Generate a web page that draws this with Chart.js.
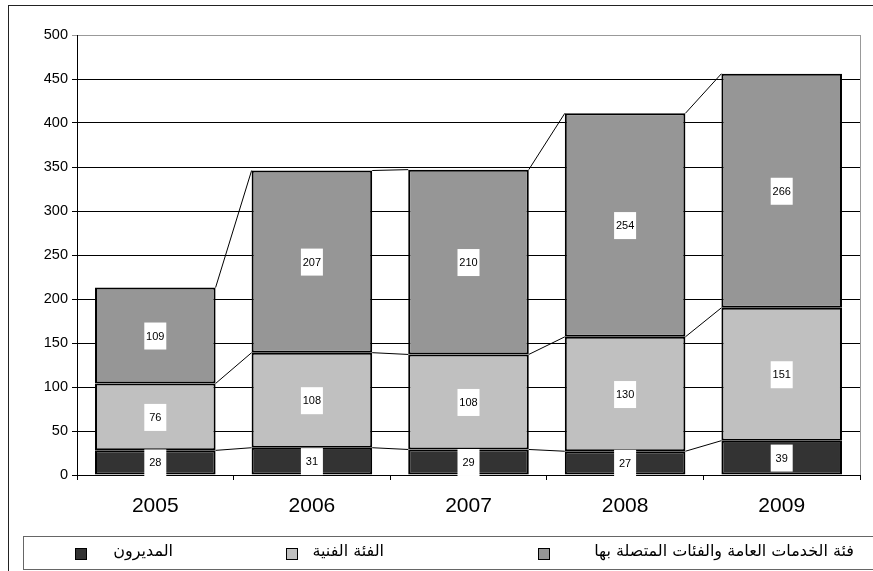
<!DOCTYPE html>
<html>
<head>
<meta charset="utf-8">
<script src="https://cdn.jsdelivr.net/npm/chart.js@4"></script>
<style>
  body { margin: 0; background: #fff; }
  #wrap { position: relative; width: 873px; height: 571px; overflow: hidden; }
  #frame { position: absolute; left: 8px; top: 5px; width: 870px; height: 580px; border-top: 1px solid #222; border-left: 1px solid #222; }
  #legend { position: absolute; left: 23px; top: 536px; width: 860px; height: 32px; border: 1px solid #666; }
  .item { position: absolute; top: 4px; font-family: "DejaVu Sans", sans-serif; font-size: 16px; direction: rtl; white-space: nowrap; }
  .sw { position: absolute; top: 11px; width: 10px; height: 10px; border: 1px solid #000; }
</style>
</head>
<body>
<div id="wrap">
  <canvas id="c" width="873" height="571" style="position:absolute;left:0;top:0"></canvas>
  <div id="frame"></div>
  <div id="legend"></div>
</div>
<script>
const anios = ['2005', '2006', '2007', '2008', '2009'];
const nombres = ['المديرون', 'الفئة الفنية', 'فئة الخدمات العامة والفئات المتصلة بها'];
const directores = [28, 31, 29, 27, 39];
const tecnica = [76, 108, 108, 130, 151];
const servicios = [109, 207, 210, 254, 266];
const colores = ['#333333', '#c0c0c0', '#969696'];
const ticksY = [0, 50, 100, 150, 200, 250, 300, 350, 400, 450, 500];

// lineas de serie entre barras + etiquetas con fondo blanco
const extras = {
  id: 'extras',
  afterDatasetsDraw(chart) {
    const ctx = chart.ctx;
    const area = chart.chartArea;
    ctx.save();
    ctx.strokeStyle = '#999';
    ctx.lineWidth = 1;
    ctx.beginPath();
    ctx.moveTo(area.right + 0.5, area.top);
    ctx.lineTo(area.right + 0.5, area.bottom);
    ctx.stroke();
    ctx.strokeStyle = '#000';
    chart.data.datasets.forEach((ds, i) => {
      const bars = chart.getDatasetMeta(i).data;
      for (let j = 0; j < bars.length - 1; j++) {
        const a = bars[j], b = bars[j + 1];
        ctx.beginPath();
        ctx.moveTo(a.x + a.width / 2, a.y);
        ctx.lineTo(b.x - b.width / 2, b.y);
        ctx.stroke();
      }
    });
    ctx.font = '11px "Liberation Sans", Arial';
    ctx.textAlign = 'center';
    ctx.textBaseline = 'middle';
    chart.data.datasets.forEach((ds, i) => {
      chart.getDatasetMeta(i).data.forEach((bar, j) => {
        const p = bar.getCenterPoint();
        ctx.fillStyle = '#fff';
        ctx.fillRect(p.x - 11, p.y - 13, 22, 27);
        ctx.fillStyle = '#000';
        ctx.fillText(ds.data[j], p.x, p.y + 1);
      });
    });
    ctx.restore();
  }
};

new Chart(document.getElementById('c'), {
  type: 'bar',
  data: {
    labels: anios,
    datasets: [
      { label: nombres[0], data: directores, backgroundColor: colores[0] },
      { label: nombres[1], data: tecnica, backgroundColor: colores[1] },
      { label: nombres[2], data: servicios, backgroundColor: colores[2] }
    ].map(d => Object.assign(d, { borderColor: '#000', borderWidth: 2, borderSkipped: false, categoryPercentage: 1, barPercentage: 0.77 }))
  },
  options: {
    responsive: false,
    animation: false,
    layout: { padding: { left: 0, right: 13, top: 35, bottom: 50 } },
    plugins: { legend: { display: false }, tooltip: { enabled: false } },
    scales: {
      x: {
        stacked: true,
        grid: { drawOnChartArea: false, tickLength: 5, color: '#000', offset: true },
        border: { color: '#000' },
        ticks: { color: '#000', font: { family: 'Liberation Sans', size: 21 }, padding: 14 },
        afterFit: s => { s.height = 46; }
      },
      y: {
        stacked: true,
        min: ticksY[0],
        max: ticksY[ticksY.length - 1],
        afterBuildTicks: s => { s.ticks = ticksY.map(v => ({ value: v })); },
        grid: { color: c => (c.tick && c.tick.value === 500 ? '#999' : '#000'), tickLength: 5 },
        border: { color: '#000' },
        ticks: { color: '#000', font: { family: 'Liberation Sans', size: 14.5 }, padding: 4 },
        afterFit: s => { s.width = 77; }
      }
    }
  },
  plugins: [extras]
});

// leyenda abajo, de derecha a izquierda
const leyenda = document.getElementById('legend');
const pos = [{ sw: 51, txtRight: 711 }, { sw: 262, txtRight: 500 }, { sw: 514, txtRight: 30 }];
nombres.forEach((n, i) => {
  const sw = document.createElement('div');
  sw.className = 'sw';
  sw.style.left = pos[i].sw + 'px';
  sw.style.background = colores[i];
  leyenda.appendChild(sw);
  const t = document.createElement('div');
  t.className = 'item';
  t.style.right = pos[i].txtRight + 'px';
  t.textContent = n;
  leyenda.appendChild(t);
});
</script>
</body>
</html>
